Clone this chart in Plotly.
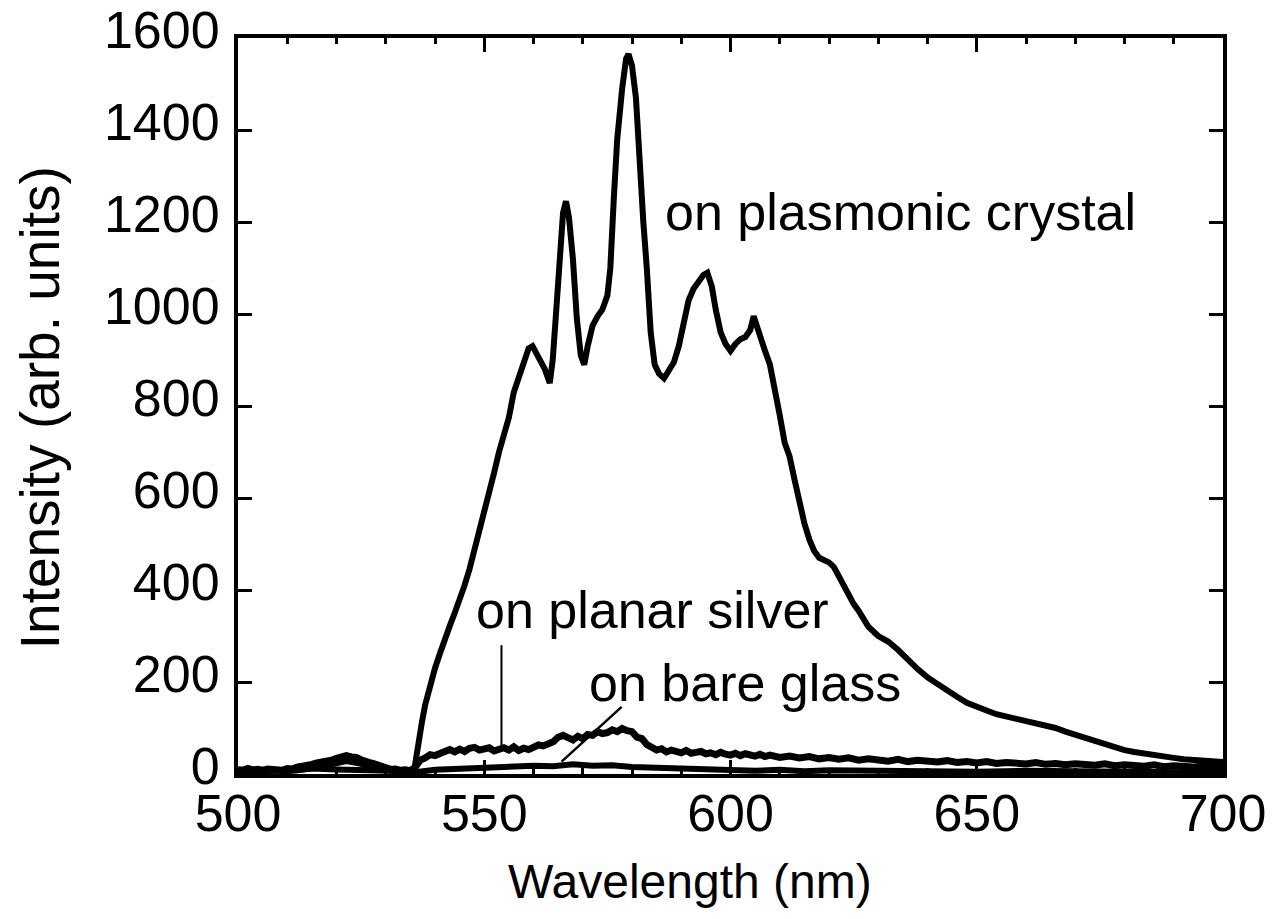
import plotly.graph_objects as go

# Emission spectra (wavelength in nm, intensity in arb. units)
crystal_nm = [500, 505, 510, 515, 520, 525, 530, 535, 535.8, 536.2, 536.7, 537.3, 538, 539, 540,
              541, 542, 543, 544, 545, 546, 547, 548, 549, 550, 551, 552, 553, 554, 555, 556, 557,
              558, 559, 559.8, 560.5, 561.3, 562.3, 563.3, 563.9, 564.5, 565.3, 566, 566.6, 567.2,
              568, 568.8, 569.6, 570.3, 571, 572, 573, 574, 575, 575.6, 576.3, 577, 578, 578.8,
              579.3, 580, 580.8, 581.5, 582.3, 583, 583.8, 584.6, 585.5, 586.5, 587.5, 588.5,
              589.5, 590.5, 591.5, 592.5, 593.5, 594.5, 595.3, 596.2, 597, 598, 599, 600, 601, 602,
              603, 604, 604.7, 605.4, 606.2, 607, 608, 609, 610, 611, 612, 613, 614, 615, 616, 617,
              618, 619, 620, 621, 622, 623, 624, 625, 626, 627, 628, 630, 632, 634, 636, 638, 640,
              642, 644, 646, 648, 650, 652, 654, 656, 658, 660, 662, 664, 666, 668, 670, 672, 674,
              676, 678, 680, 682, 684, 686, 688, 690, 692, 694, 696, 698, 700]
crystal_int = [8, 10, 6, 12, 10, 9, 8, 6, 10, 40, 75, 110, 150, 195, 230,
               262, 295, 322, 350, 378, 410, 445, 485, 525, 565, 610, 655, 700, 735, 775, 830, 860,
               890, 925, 930, 915, 905, 880, 850, 900, 990, 1130, 1220, 1245, 1210,
               1120, 990, 910, 890, 930, 975, 995, 1010, 1040, 1100, 1250, 1380, 1490, 1555,
               1565, 1540, 1470, 1330, 1200, 1100, 960, 890, 870, 860, 880, 895,
               930, 985, 1030, 1055, 1070, 1085, 1090, 1060, 1010, 960, 935, 920, 935, 945,
               950, 965, 995, 975, 945, 920, 890, 840, 780, 720, 690, 640, 590, 545, 510, 485,
               470, 465, 460, 450, 430, 405, 385, 370, 355, 335, 320, 300, 288, 270, 248, 228, 210,
               195, 182, 168, 155, 145, 138, 130, 125, 120, 115, 112, 108, 100, 92, 85, 78, 70,
               64, 58, 52, 48, 44, 40, 37, 35, 32, 30, 28, 27, 26]

silver_nm = [500, 501, 502, 503, 504, 505, 506, 507, 508, 509, 510, 511, 512, 513, 514, 515, 516,
             517, 518, 519, 520, 521, 522, 523, 524, 525, 526, 527, 528, 529, 530, 531, 532, 533,
             534, 535, 536, 537, 538, 539, 540, 541, 542, 543, 544, 545, 546, 547, 548, 549, 550,
             551, 552, 553, 554, 555, 556, 557, 558, 559, 560, 561, 562, 563, 564, 565, 566, 567,
             568, 569, 570, 571, 572, 573, 574, 575, 576, 577, 578, 579, 580, 581, 582, 583, 584,
             585, 586, 587, 588, 589, 590, 591, 592, 593, 594, 595, 596, 597, 598, 599, 600, 601,
             602, 603, 604, 605, 606, 607, 608, 609, 610, 612, 614, 616, 618, 620, 622, 624, 626,
             628, 630, 632, 634, 636, 638, 640, 642, 644, 646, 648, 650, 652, 654, 656, 658, 660,
             662, 664, 666, 668, 670, 672, 674, 676, 678, 680, 682, 684, 686, 688, 690, 692, 694,
             696, 698, 700]
silver_int = [10, 8, 12, 9, 10, 7, 11, 9, 10, 8, 12, 11, 15, 16, 19, 21, 24,
              25, 29, 30, 34, 36, 40, 37, 36, 31, 29, 24, 21, 16, 14, 10, 11, 8,
              9, 7, 15, 30, 35, 42, 40, 46, 49, 53, 48, 54, 49, 56, 58, 52, 54,
              57, 50, 55, 57, 52, 59, 51, 56, 53, 57, 63, 61, 64, 70, 80, 84, 79,
              74, 82, 77, 86, 84, 92, 88, 90, 96, 92, 99, 94, 92, 80, 77, 64, 60,
              52, 55, 48, 52, 49, 46, 51, 45, 47, 49, 44, 46, 42, 47, 43, 41, 45,
              40, 44, 42, 39, 43, 38, 41, 39, 36, 39, 35, 38, 33, 36, 32, 35, 30,
              33, 31, 28, 32, 27, 30, 28, 26, 29, 25, 27, 24, 27, 23, 25, 24, 22,
              25, 21, 23, 20, 22, 21, 19, 22, 18, 20, 19, 17, 20, 16, 18, 17, 15,
              18, 15, 17]

glass_nm = [500, 504, 508, 512, 516, 519, 522, 525, 528, 532, 536, 540, 544, 548, 552, 556, 560,
            564, 568, 572, 576, 580, 584, 588, 592, 596, 600, 605, 610, 615, 620, 630, 640, 650,
            660, 670, 680, 690, 700]
glass_int = [5, 6, 4, 8, 14, 22, 28, 22, 12, 6, 4, 9, 11, 11, 14, 14, 18,
             17, 21, 18, 19, 15, 14, 10, 11, 8, 10, 7, 9, 6, 8, 6, 7, 5,
             7, 5, 6, 4, 6]

x_ticks = [500, 550, 600, 650, 700]
y_ticks = [0, 200, 400, 600, 800, 1000, 1200, 1400, 1600]

FONT = "Liberation Sans, Arial, Helvetica, sans-serif"

fig = go.Figure()
fig.add_trace(go.Scatter(x=glass_nm, y=glass_int, mode="lines",
                         line=dict(color="black", width=6), name="on bare glass"))
fig.add_trace(go.Scatter(x=silver_nm, y=silver_int, mode="lines",
                         line=dict(color="black", width=7), name="on planar silver"))
fig.add_trace(go.Scatter(x=crystal_nm, y=crystal_int, mode="lines",
                         line=dict(color="black", width=6), name="on plasmonic crystal"))

axis_common = dict(showgrid=False, zeroline=False, showline=True, linecolor="black",
                   linewidth=4, mirror="allticks", ticks="inside", tickcolor="black",
                   tickwidth=3, automargin=False, ticklabeloverflow="allow",
                   tickfont=dict(family=FONT, size=52, color="black"))

fig.update_xaxes(range=[500, 700], tickvals=x_ticks, ticklen=14,
                 minor=dict(dtick=10, ticks="inside", ticklen=6, tickwidth=3, tickcolor="black"),
                 ticklabelstandoff=-9, **axis_common)
fig.update_yaxes(range=[0, 1600], tickvals=y_ticks, ticklen=14,
                 ticklabelstandoff=4, ticklabelshift=-8, **axis_common)

# Curve labels
labels = [("on plasmonic crystal", 634.6, 1222),
          ("on planar silver", 584.2, 356),
          ("on bare glass", 603.0, 198)]
for text, lx, ly in labels:
    fig.add_annotation(x=lx, y=ly, xref="x", yref="y", text=text, showarrow=False,
                       xanchor="center", yanchor="middle",
                       font=dict(family=FONT, size=52, color="black"))

# Leader lines from labels to their curves
fig.add_shape(type="line", xref="x", yref="y", x0=553.5, y0=280, x1=553.5, y1=59,
              line=dict(color="black", width=2))
fig.add_shape(type="line", xref="x", yref="y", x0=577.9, y0=146, x1=565.7, y1=27,
              line=dict(color="black", width=2.5))

# Axis titles
fig.add_annotation(x=0.459, y=-0.146, xref="paper", yref="paper", text="Wavelength (nm)",
                   showarrow=False, xanchor="center", yanchor="middle",
                   font=dict(family=FONT, size=48, color="black"))
fig.add_annotation(x=-0.201, y=0.497, xref="paper", yref="paper",
                   text="Intensity (arb. units)", textangle=-90, showarrow=False,
                   xanchor="center", yanchor="middle",
                   font=dict(family=FONT, size=55, color="black"))

fig.update_layout(width=1274, height=919, showlegend=False,
                  margin=dict(l=238, r=51, t=38, b=145),
                  paper_bgcolor="white", plot_bgcolor="white")

fig.write_html("out.html")
